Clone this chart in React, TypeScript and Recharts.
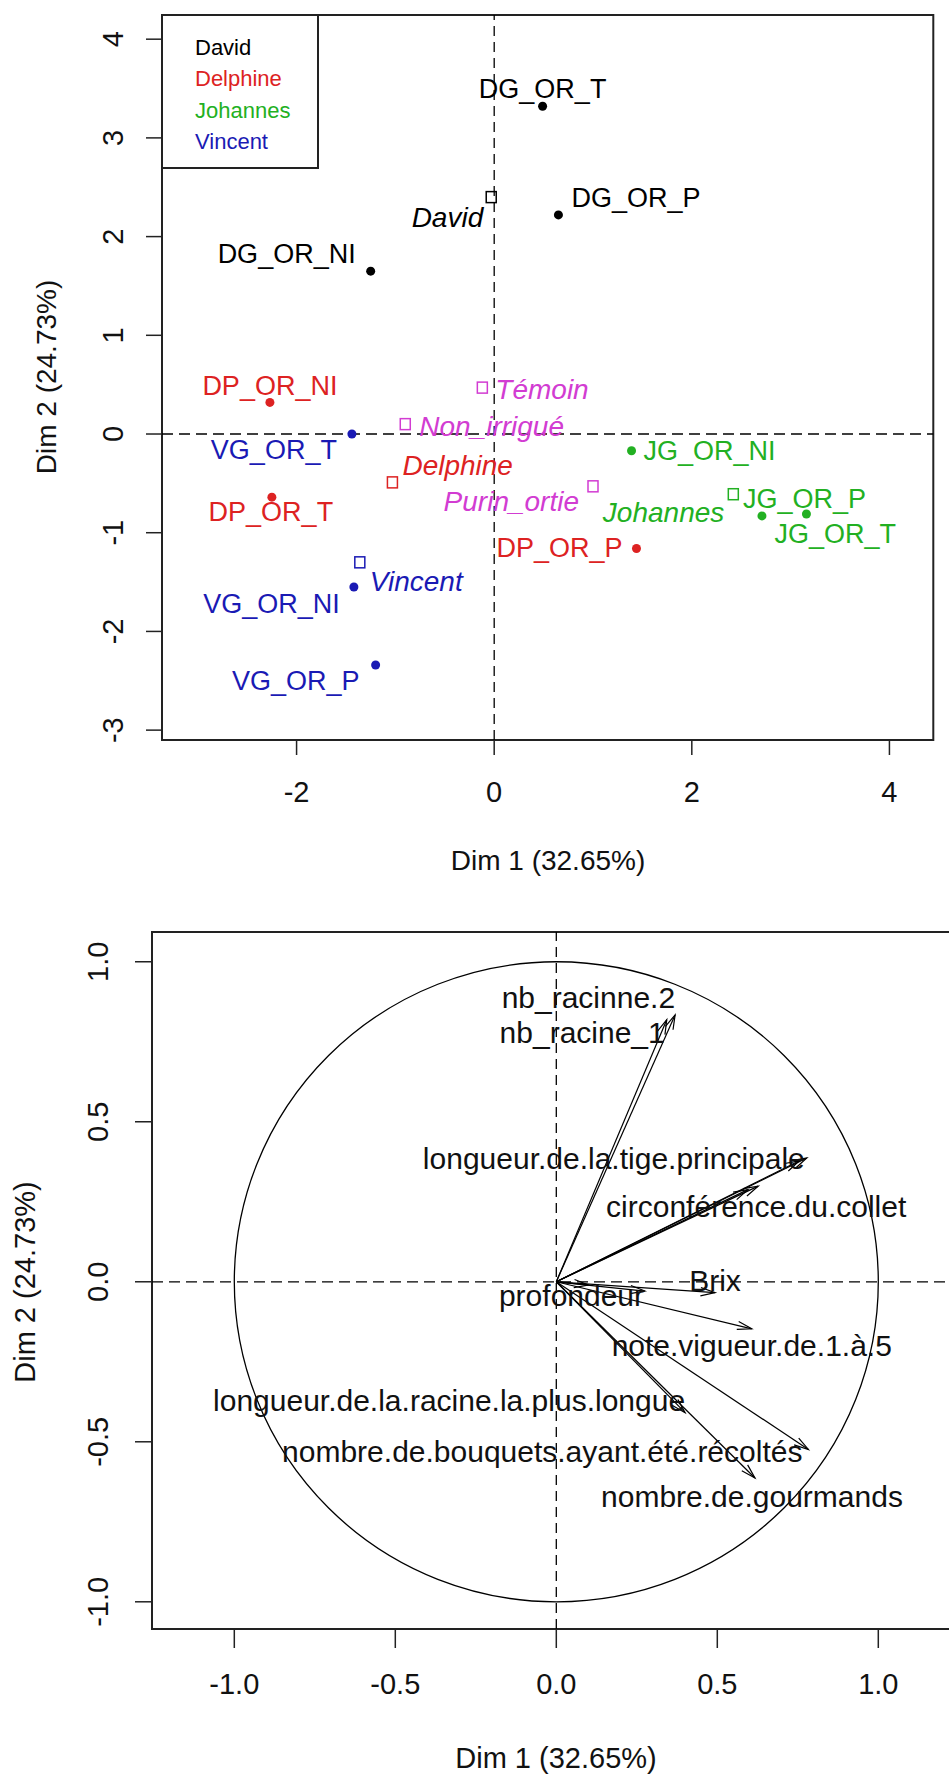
import React from 'react';
import {
  ScatterChart, Scatter, XAxis, YAxis, ReferenceLine, ReferenceArea, Legend, Label
} from 'recharts';

const FONT = '"Liberation Sans", Arial, Helvetica, sans-serif';

// ---- individuals map (Dim 1 / Dim 2) ----
const groupNames = ['David', 'Delphine', 'Johannes', 'Vincent'];
const groupColors = ['#000000', '#dd2222', '#22b022', '#1a1ab4'];
const treatColor = '#d23cd2';

const davidInd = [
  { name: 'DG_OR_T', x: 0.49, y: 3.32 },
  { name: 'DG_OR_P', x: 0.65, y: 2.22 },
  { name: 'DG_OR_NI', x: -1.25, y: 1.65 },
];
const delphineInd = [
  { name: 'DP_OR_NI', x: -2.27, y: 0.32 },
  { name: 'DP_OR_T', x: -2.25, y: -0.64 },
  { name: 'DP_OR_P', x: 1.44, y: -1.16 },
];
const johannesInd = [
  { name: 'JG_OR_NI', x: 1.39, y: -0.17 },
  { name: 'JG_OR_P', x: 2.71, y: -0.83 },
  { name: 'JG_OR_T', x: 3.16, y: -0.81 },
];
const vincentInd = [
  { name: 'VG_OR_T', x: -1.44, y: 0.0 },
  { name: 'VG_OR_NI', x: -1.42, y: -1.55 },
  { name: 'VG_OR_P', x: -1.20, y: -2.34 },
];
const groupCenters = [
  { name: 'David', x: -0.03, y: 2.40 },
  { name: 'Delphine', x: -1.03, y: -0.49 },
  { name: 'Johannes', x: 2.42, y: -0.61 },
  { name: 'Vincent', x: -1.36, y: -1.30 },
];
const treatCenters = [
  { name: 'Témoin', x: -0.12, y: 0.47 },
  { name: 'Non_irrigué', x: -0.90, y: 0.10 },
  { name: 'Purin_ortie', x: 1.00, y: -0.53 },
];
const xTicksInd = [-2, 0, 2, 4];
const yTicksInd = [-3, -2, -1, 0, 1, 2, 3, 4];

// ---- variables map ----
const variables = [
  { name: 'nb_racinne.2', x: 0.369, y: 0.834 },
  { name: 'nb_racine_1', x: 0.343, y: 0.819 },
  { name: 'longueur.de.la.tige.principale', x: 0.778, y: 0.387 },
  { name: '', x: 0.755, y: 0.378 },
  { name: 'circonférence.du.collet', x: 0.627, y: 0.299 },
  { name: '', x: 0.595, y: 0.288 },
  { name: 'Brix', x: 0.493, y: -0.034 },
  { name: '', x: 0.275, y: -0.029 },
  { name: 'profondeur', x: 0.10, y: -0.01 },
  { name: 'note.vigueur.de.1.à.5', x: 0.607, y: -0.147 },
  { name: 'longueur.de.la.racine.la.plus.longue', x: 0.40, y: -0.409 },
  { name: 'nombre.de.bouquets.ayant.été.récoltés', x: 0.783, y: -0.524 },
  { name: 'nombre.de.gourmands', x: 0.617, y: -0.613 },
];
const varTicks = [-1, -0.5, 0, 0.5, 1];

// label placement (pixel offsets from the mark, text anchor)
type Place = [number, number, 'start' | 'middle' | 'end'];
const indPlace: Record<string, Place> = {
  DG_OR_T: [0, -17, 'middle'],
  DG_OR_P: [13, -17, 'start'],
  DG_OR_NI: [-15, -17, 'end'],
  DP_OR_NI: [0, -16, 'middle'],
  DP_OR_T: [-1, 15, 'middle'],
  DP_OR_P: [-14, -1, 'end'],
  JG_OR_NI: [12, 0, 'start'],
  JG_OR_P: [-19, -17, 'start'],
  JG_OR_T: [-32, 20, 'start'],
  VG_OR_T: [-15, 16, 'end'],
  VG_OR_NI: [-14, 17, 'end'],
  VG_OR_P: [-16, 16, 'end'],
  David: [-8, 20, 'end'],
  Delphine: [10, -17, 'start'],
  Johannes: [-9, 18, 'end'],
  Vincent: [10, 19, 'start'],
  'Témoin': [13, 2, 'start'],
  'Non_irrigué': [14, 2, 'start'],
  Purin_ortie: [-14, 15, 'end'],
};
const varPlace: Record<string, Place> = {
  'nb_racinne.2': [0, -17, 'end'],
  nb_racine_1: [-2, 13, 'end'],
  'longueur.de.la.tige.principale': [-2, 1, 'end'],
  'circonférence.du.collet': [-2, 20, 'middle'],
  Brix: [0, -12, 'middle'],
  profondeur: [-17, 11, 'middle'],
  'note.vigueur.de.1.à.5': [0, 17, 'middle'],
  'longueur.de.la.racine.la.plus.longue': [0, -12, 'end'],
  'nombre.de.bouquets.ayant.été.récoltés': [-6, 2, 'end'],
  'nombre.de.gourmands': [-3, 19, 'middle'],
};

const X1: [number, number] = [-3.362, 4.444];
const Y1: [number, number] = [-3.1, 4.245];
const X2: [number, number] = [-1.2556, 1.2556];
const Y2: [number, number] = [-1.085, 1.093];

const dotShape = (color: string) => (p: any) => {
  const { cx, cy, payload } = p;
  const [dx, dy, anchor] = indPlace[payload.name] || [0, -16, 'middle'];
  return (
    <g>
      <circle cx={cx} cy={cy} r={4.5} fill={color} />
      <text x={cx + dx} y={cy + dy} textAnchor={anchor} dominantBaseline="central"
        fill={color} fontSize={27} fontFamily={FONT}>{payload.name}</text>
    </g>
  );
};

const squareShape = (colorOf: (name: string) => string) => (p: any) => {
  const { cx, cy, payload } = p;
  const color = colorOf(payload.name);
  const [dx, dy, anchor] = indPlace[payload.name] || [0, -16, 'middle'];
  return (
    <g>
      <rect x={cx - 5} y={cy - 5.5} width={10} height={11} fill="none" stroke={color} strokeWidth={1.5} />
      <text x={cx + dx} y={cy + dy} textAnchor={anchor} dominantBaseline="central"
        fill={color} fontSize={28} fontStyle="italic" fontFamily={FONT}>{payload.name}</text>
    </g>
  );
};

const varLabelShape = (p: any) => {
  const { cx, cy, payload } = p;
  if (!payload.name) return <g />;
  const [dx, dy, anchor] = varPlace[payload.name] || [0, -14, 'middle'];
  return (
    <text x={cx + dx} y={cy + dy} textAnchor={anchor} dominantBaseline="central"
      fill="#111" fontSize={30} fontFamily={FONT}>{payload.name}</text>
  );
};

const arrowShape = (p: any) => {
  const { x1, y1, x2, y2 } = p;
  const ang = Math.atan2(y2 - y1, x2 - x1);
  const len = 15;
  const a = (16 * Math.PI) / 180;
  const hx1 = x2 - len * Math.cos(ang - a);
  const hy1 = y2 - len * Math.sin(ang - a);
  const hx2 = x2 - len * Math.cos(ang + a);
  const hy2 = y2 - len * Math.sin(ang + a);
  return (
    <g>
      <line x1={x1} y1={y1} x2={x2} y2={y2} stroke="#000" strokeWidth={1.2} />
      <polyline points={`${hx1},${hy1} ${x2},${y2} ${hx2},${hy2}`} fill="none" stroke="#000" strokeWidth={1.2} />
    </g>
  );
};

const circleShape = (p: any) => {
  const { x, y, width, height } = p;
  return (
    <ellipse cx={x + width / 2} cy={y + height / 2} rx={width / 2} ry={height / 2}
      fill="none" stroke="#000" strokeWidth={1.3} />
  );
};

const textStyle = { fontFamily: FONT, fill: '#111' };

const xTick = (ty: number, fmt: (v: number) => string) => (p: any) => (
  <text x={p.x} y={ty} textAnchor="middle" dominantBaseline="central" fontSize={29} {...textStyle}>
    {fmt(p.payload.value)}
  </text>
);
const yTick = (tx: number, fmt: (v: number) => string) => (p: any) => (
  <text x={tx} y={p.y} transform={`rotate(-90 ${tx} ${p.y})`} textAnchor="middle"
    dominantBaseline="central" fontSize={29} {...textStyle}>
    {fmt(p.payload.value)}
  </text>
);

const axisTitle = (x: number, y: number, text: string, rotate: boolean, size = 28) => () => (
  <text x={x} y={y} transform={rotate ? `rotate(-90 ${x} ${y})` : undefined} textAnchor="middle"
    dominantBaseline="central" fontSize={size} {...textStyle}>{text}</text>
);

const LegendBox = () => (
  <div style={{
    width: 158, height: 155, border: '2px solid #222', boxSizing: 'border-box', background: '#fff',
    fontFamily: FONT, fontSize: 22, paddingTop: 16, paddingLeft: 32,
  }}>
    {groupNames.map((g, i) => (
      <div key={g} style={{ color: groupColors[i], height: 31.4, lineHeight: '31.4px' }}>{g}</div>
    ))}
  </div>
);

const intFmt = (v: number) => String(v);
const decFmt = (v: number) => v.toFixed(1);

export default function App() {
  const centerColor = (name: string) => groupColors[groupNames.indexOf(name)] || '#000';
  return (
    <div style={{ position: 'absolute', left: 0, top: 0, width: 949, height: 1778, overflow: 'hidden', background: '#fff' }}>
      <div style={{ position: 'absolute', left: 0, top: 0 }}>
        <ScatterChart width={949} height={900} margin={{ top: 15, right: 15.7, bottom: 0, left: 0 }}>
          <XAxis type="number" dataKey="x" domain={X1} ticks={xTicksInd} allowDataOverflow interval={0}
            height={160} axisLine={false} tickSize={15} tickLine={{ stroke: '#222', strokeWidth: 1.5 }}
            tick={xTick(792, intFmt)}>
            <Label content={axisTitle(548, 860, 'Dim 1 (32.65%)', false)} />
          </XAxis>
          <YAxis type="number" dataKey="y" domain={Y1} ticks={yTicksInd} allowDataOverflow interval={0}
            width={162} axisLine={false} tickSize={16} tickLine={{ stroke: '#222', strokeWidth: 1.5 }}
            tick={yTick(113, intFmt)}>
            <Label content={axisTitle(46, 377, 'Dim 2 (24.73%)', true)} />
          </YAxis>
          <ReferenceArea x1={X1[0]} x2={X1[1]} y1={Y1[0]} y2={Y1[1]} fill="none" fillOpacity={0}
            stroke="#222" strokeWidth={2} ifOverflow="visible" />
          <ReferenceLine x={0} stroke="#000" strokeWidth={1.3} strokeDasharray="10 6" />
          <ReferenceLine y={0} stroke="#000" strokeWidth={1.3} strokeDasharray="11 6" />
          <Legend layout="horizontal" verticalAlign="middle" align="center" content={() => <LegendBox />}
            wrapperStyle={{ position: 'absolute', left: 161, top: 14, width: 158, height: 155 }} />
          <Scatter name="David" data={davidInd} shape={dotShape(groupColors[0])} isAnimationActive={false} legendType="none" />
          <Scatter name="Delphine" data={delphineInd} shape={dotShape(groupColors[1])} isAnimationActive={false} legendType="none" />
          <Scatter name="Johannes" data={johannesInd} shape={dotShape(groupColors[2])} isAnimationActive={false} legendType="none" />
          <Scatter name="Vincent" data={vincentInd} shape={dotShape(groupColors[3])} isAnimationActive={false} legendType="none" />
          <Scatter name="groups" data={groupCenters} shape={squareShape(centerColor)} isAnimationActive={false} legendType="none" />
          <Scatter name="treatments" data={treatCenters} shape={squareShape(() => treatColor)} isAnimationActive={false} legendType="none" />
        </ScatterChart>
      </div>
      <div style={{ position: 'absolute', left: 0, top: 900 }}>
        <ScatterChart width={975} height={878} margin={{ top: 32, right: 14.4, bottom: 0, left: 0 }}>
          <XAxis type="number" dataKey="x" domain={X2} ticks={varTicks} allowDataOverflow interval={0}
            height={149} axisLine={false} tickSize={19} tickLine={{ stroke: '#222', strokeWidth: 1.5 }}
            tick={xTick(784, decFmt)}>
            <Label content={axisTitle(556, 858, 'Dim 1 (32.65%)', false, 29)} />
          </XAxis>
          <YAxis type="number" dataKey="y" domain={Y2} ticks={varTicks} allowDataOverflow interval={0}
            width={152} axisLine={false} tickSize={17} tickLine={{ stroke: '#222', strokeWidth: 1.5 }}
            tick={yTick(98, decFmt)}>
            <Label content={axisTitle(25, 382, 'Dim 2 (24.73%)', true, 29)} />
          </YAxis>
          <ReferenceArea x1={X2[0]} x2={X2[1]} y1={Y2[0]} y2={Y2[1]} fill="none" fillOpacity={0}
            stroke="#222" strokeWidth={2} ifOverflow="visible" />
          <ReferenceArea x1={-1} x2={1} y1={-1} y2={1} shape={circleShape} ifOverflow="visible" />
          <ReferenceLine x={0} stroke="#000" strokeWidth={1.3} strokeDasharray="10 6" />
          <ReferenceLine y={0} stroke="#000" strokeWidth={1.3} strokeDasharray="11 6" />
          {variables.map((v, i) => (
            <ReferenceLine key={`arrow-${i}`} segment={[{ x: 0, y: 0 }, { x: v.x, y: v.y }]}
              shape={arrowShape} ifOverflow="visible" />
          ))}
          <Scatter name="variables" data={variables} shape={varLabelShape} isAnimationActive={false} />
        </ScatterChart>
      </div>
    </div>
  );
}
